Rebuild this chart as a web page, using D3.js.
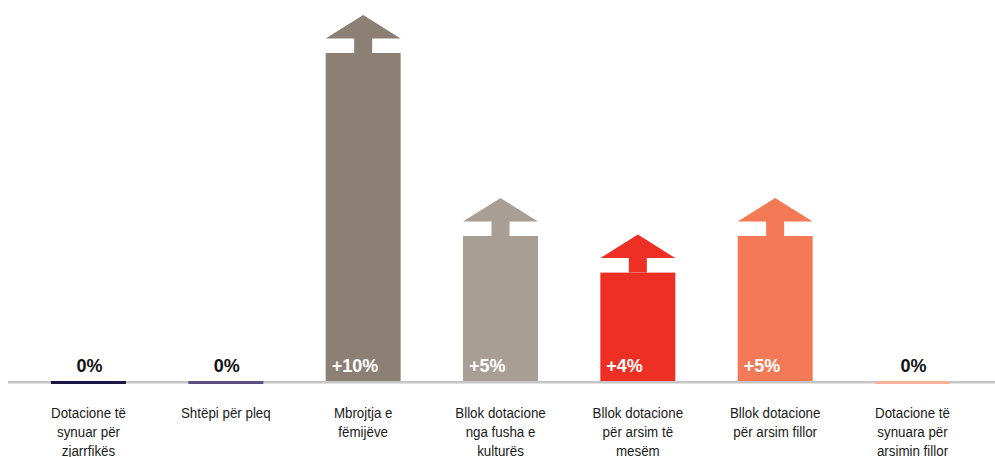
<!DOCTYPE html>
<html>
<head>
<meta charset="utf-8">
<script src="https://cdn.jsdelivr.net/npm/d3@7"></script>
<style>
  html, body { margin: 0; padding: 0; background: #ffffff; }
  svg { display: block; }
</style>
</head>
<body>
<svg id="chart" width="995" height="457"></svg>
<script>
// Change by budget line (percentage points)
const categories = [
  ["Dotacione të", "synuar për", "zjarrfikës"],
  ["Shtëpi për pleq"],
  ["Mbrojtja e", "fëmijëve"],
  ["Bllok dotacione", "nga fusha e", "kulturës"],
  ["Bllok dotacione", "për arsim të", "mesëm"],
  ["Bllok dotacione", "për arsim fillor"],
  ["Dotacione të", "synuara për", "arsimin fillor"]
];
const values = [0, 0, 10, 5, 4, 5, 0];
const colors = ["#1b1546", "#595080", "#8c8075", "#a99e93", "#ee3024", "#f47a57", "#f8b29b"];

const svg = d3.select("#chart");
const W = 995, H = 457;
const baseY = 381;

const x = d3.scaleBand()
  .domain(d3.range(categories.length))
  .range([51, 950])
  .paddingInner(0.454)
  .paddingOuter(0);

const y = d3.scaleLinear().domain([0, 10]).range([baseY, 15]);

const headTri = 23.5;   // height of the arrow's triangle
const headGap = 38;     // apex to top of the bar body
const stemW = 18;

const bw = x.bandwidth();
const data = values.map((v, i) => ({ i, v, cat: categories[i], color: colors[i] }));
const up = data.filter(d => d.v > 0);
const zero = data.filter(d => d.v === 0);

// Bar bodies
svg.append("g").selectAll("rect")
  .data(up).join("rect")
  .attr("x", d => x(d.i))
  .attr("y", d => y(d.v) + headGap)
  .attr("width", bw)
  .attr("height", d => baseY - (y(d.v) + headGap))
  .attr("fill", d => d.color);

// Arrow heads: triangle plus a short stem into the bar
svg.append("g").selectAll("path")
  .data(up).join("path")
  .attr("fill", d => d.color)
  .attr("d", d => {
    const x0 = x(d.i), cx = x0 + bw / 2, top = y(d.v);
    const tb = top + headTri;
    return `M${cx},${top}L${x0 + bw},${tb}L${cx + stemW / 2},${tb}` +
           `L${cx + stemW / 2},${top + headGap}L${cx - stemW / 2},${top + headGap}` +
           `L${cx - stemW / 2},${tb}L${x0},${tb}Z`;
  });

// Baseline
svg.append("line")
  .attr("x1", 8).attr("x2", W)
  .attr("y1", 382.2).attr("y2", 382.2)
  .attr("stroke", "#c5c5c5").attr("stroke-width", 2.6);

// Zero-change markers sitting on the baseline
svg.append("g").selectAll("rect")
  .data(zero).join("rect")
  .attr("x", d => x(d.i))
  .attr("y", baseY)
  .attr("width", bw)
  .attr("height", 3)
  .attr("fill", d => d.color);

const fmt = v => (v > 0 ? "+" : "") + v + "%";

// Value labels
svg.append("g").selectAll("text")
  .data(data).join("text")
  .attr("x", d => d.v > 0 ? x(d.i) + 6 : x(d.i) + bw / 2 + 1)
  .attr("y", 372)
  .attr("text-anchor", d => d.v > 0 ? "start" : "middle")
  .attr("font-family", "'Liberation Sans', Arial, sans-serif")
  .attr("font-weight", "bold")
  .attr("font-size", 18)
  .attr("fill", d => d.v > 0 ? "#ffffff" : "#111111")
  .text(d => fmt(d.v));

// Category labels (condensed sans)
const catG = svg.append("g").selectAll("g")
  .data(data).join("g")
  .attr("transform", d => `translate(${x(d.i) + bw / 2},418) scale(0.89,1)`);
catG.each(function(d) {
  d3.select(this).selectAll("text")
    .data(d.cat).join("text")
    .attr("x", 0)
    .attr("y", (t, k) => k * 19.2)
    .attr("text-anchor", "middle")
    .attr("font-family", "'Liberation Sans', Arial, sans-serif")
    .attr("font-size", 15)
    .attr("fill", "#1a1a1a")
    .text(t => t);
});
</script>
</body>
</html>
